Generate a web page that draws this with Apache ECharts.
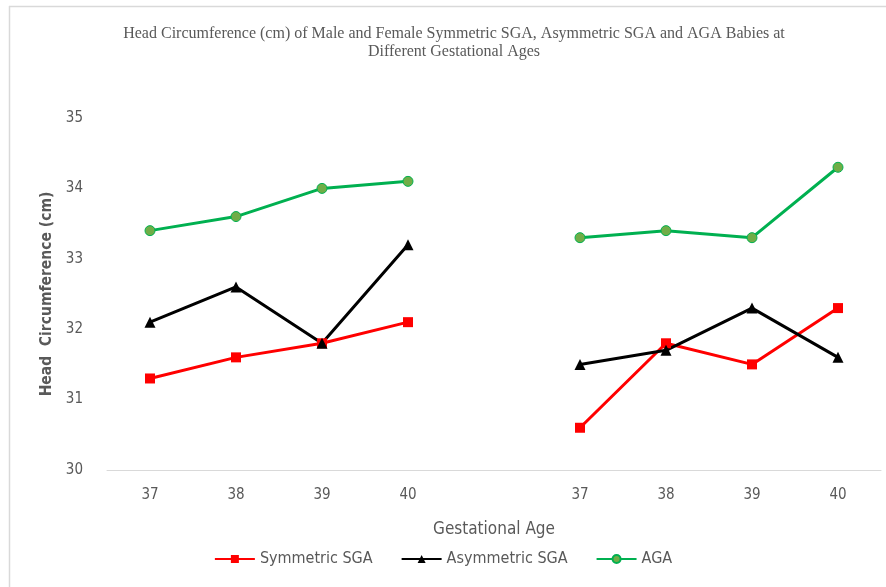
<!DOCTYPE html>
<html><head><meta charset="utf-8">
<script src="https://cdn.jsdelivr.net/npm/echarts@6/dist/echarts.min.js"></script>
<style>html,body{margin:0;padding:0;background:#fff}#c{width:886px;height:587px}</style>
</head><body><div id="c"></div>
<script>
const categories = ['37','38','39','40','','37','38','39','40'];
const symmetricSGA = [31.3, 31.6, 31.8, 32.1, null, 30.6, 31.8, 31.5, 32.3];
const asymmetricSGA = [32.1, 32.6, 31.8, 33.2, null, 31.5, 31.7, 32.3, 31.6];
const aga = [33.4, 33.6, 34.0, 34.1, null, 33.3, 33.4, 33.3, 34.3];
const yTicks = [30, 31, 32, 33, 34, 35];

const chart = echarts.init(document.getElementById('c'), null, {renderer: 'canvas'});
const txt = '#595959';
const sans = '"Liberation Sans Narrow", "DejaVu Sans Condensed", "Open Sans", sans-serif';
function mk(name, data, color, symbol, size) {
  return {
    name, type: 'line', data, connectNulls: false,
    symbol, symbolSize: size, showSymbol: true,
    lineStyle: {color, width: 3},
    itemStyle: {color: symbol === 'circle' ? '#70ad47' : color, borderColor: color, borderWidth: symbol === 'circle' ? 1 : 0},
    emphasis: {disabled: true}
  };
}
chart.setOption({
  animation: false,
  title: {
    text: 'Head Circumference (cm) of Male and Female Symmetric SGA, Asymmetric SGA and AGA Babies at\nDifferent Gestational Ages',
    left: 449, top: 20, textAlign: 'center',
    textStyle: {fontFamily: '"Liberation Serif", "DejaVu Serif", serif', fontWeight: 'normal', fontSize: 16, color: txt, lineHeight: 18}
  },
  legend: {
    bottom: 15, left: 'center', itemWidth: 40, itemHeight: 10, itemGap: 28,
    textStyle: {fontFamily: sans, fontSize: 16, color: txt},
    data: ['Symmetric SGA', 'Asymmetric SGA', 'AGA']
  },
  grid: {left: 107, right: 5, top: 118, bottom: 117, containLabel: false},
  xAxis: {
    type: 'category', data: categories, boundaryGap: true,
    name: 'Gestational Age', nameLocation: 'middle', nameGap: 51,
    nameTextStyle: {fontFamily: sans, fontSize: 17, color: txt},
    axisLine: {show: true, lineStyle: {color: '#d9d9d9', width: 1}},
    axisTick: {show: false},
    axisLabel: {fontFamily: sans, fontSize: 15, color: txt, margin: 18, interval: 0}
  },
  yAxis: {
    type: 'value', min: yTicks[0], max: yTicks[yTicks.length - 1], interval: 1,
    name: 'Head  Circumference (cm)', nameLocation: 'middle', nameGap: 44,
    nameTextStyle: {fontFamily: sans, fontSize: 15.5, fontWeight: 'bold', color: txt},
    axisLine: {show: false}, axisTick: {show: false},
    splitLine: {show: false},
    axisLabel: {fontFamily: sans, fontSize: 15, color: txt, margin: 24}
  },
  series: [
    mk('Symmetric SGA', symmetricSGA, '#ff0000', 'rect', 10),
    mk('Asymmetric SGA', asymmetricSGA, '#000000', 'triangle', 11),
    mk('AGA', aga, '#00b050', 'circle', 10)
  ],
  graphic: [
    {type: 'line', shape: {x1: 9, y1: 6.5, x2: 886, y2: 6.5}, style: {stroke: '#d9d9d9', lineWidth: 1.5}},
    {type: 'line', shape: {x1: 9.5, y1: 6, x2: 9.5, y2: 587}, style: {stroke: '#d9d9d9', lineWidth: 1.5}}
  ]
});
</script></body></html>
